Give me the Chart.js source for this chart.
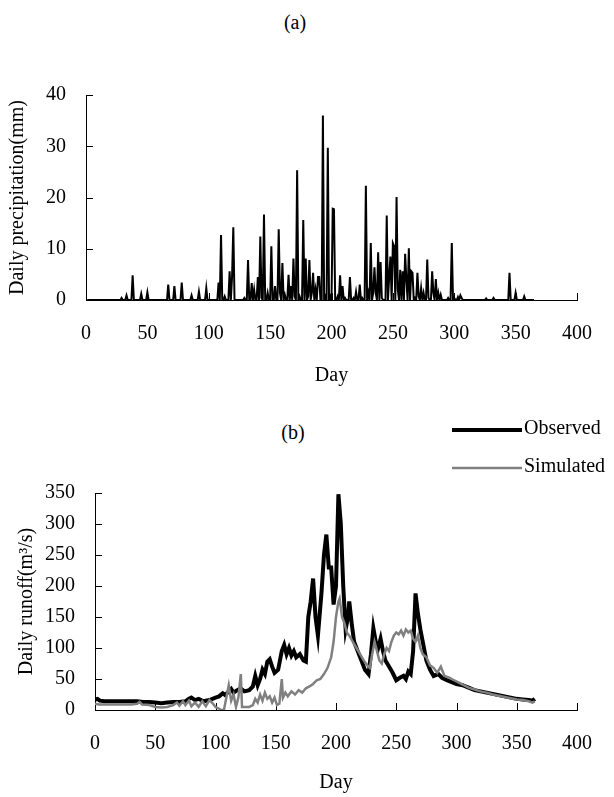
<!DOCTYPE html>
<html>
<head>
<meta charset="utf-8">
<script src="https://cdn.jsdelivr.net/npm/chart.js@4.4.0/dist/chart.umd.min.js"></script>
<style>
  body { margin: 0; background: #fff; }
  #wrap { position: relative; width: 614px; height: 797px; font-family: "Liberation Serif", serif; color: #000; }
  canvas { position: absolute; left: 0; }
  .lab { position: absolute; font-size: 20px; transform: translate(-50%, -50%); }
</style>
</head>
<body>
<div id="wrap">
  <div class="lab" style="left:295px;top:22px">(a)</div>
  <div class="lab" style="left:293px;top:432px">(b)</div>
  <canvas id="rain" width="614" height="400" style="top:0"></canvas>
  <canvas id="flow" width="614" height="397" style="top:400px"></canvas>
</div>
<script>
// (a) daily precipitation, only the wet days (all other days are 0)
const rainDays = [29, 33, 38, 45, 50, 67, 72, 78, 86, 92, 98, 108, 110, 113, 117, 119, 120, 129, 132, 135,
  137, 140, 142, 143, 145, 148, 151, 154, 157, 158, 160, 162, 165, 167, 169, 170, 172, 174, 177, 179,
  181, 182, 184, 185, 187, 189, 190, 193, 195, 197, 199, 201, 202, 205, 207, 209, 211, 215, 218, 220,
  223, 225, 228, 230, 232, 234, 235, 236, 238, 240, 241, 245, 247, 248, 250, 251, 253, 254, 256, 258,
  260, 261, 263, 265, 266, 268, 270, 271, 273, 275, 278, 279, 282, 283, 285, 287, 289, 295, 298, 300,
  303, 305, 306, 326, 332, 345, 350, 357];
const rainMm = [0.4, 0.9, 4.8, 1.2, 1.5, 3.0, 2.7, 3.4, 0.9, 1.6, 2.3, 3.4, 12.7, 0.7, 5.6, 4.6, 14.2, 0.4, 7.8, 3.3,
  2.0, 4.5, 12.4, 0.4, 16.7, 1.4, 10.5, 2.7, 13.8, 1.4, 7.2, 1.0, 4.9, 2.7, 8.1, 0.7, 25.3, 0.7, 15.6, 8.1,
  0.7, 7.8, 1.4, 5.3, 2.0, 4.5, 4.5, 36.0, 0.7, 29.7, 0.7, 17.8, 17.7, 0.7, 4.8, 2.7, 0.4, 4.5, 0.4, 1.6,
  3.0, 0.4, 22.3, 1.4, 11.1, 1.4, 6.4, 1.4, 9.3, 7.4, 0.4, 16.5, 4.6, 8.5, 11.1, 10.5, 20.1, 2.0, 5.9, 5.6,
  9.0, 4.0, 10.1, 5.6, 5.3, 0.4, 5.3, 0.7, 2.3, 1.4, 7.9, 0.4, 5.6, 1.4, 4.1, 1.4, 1.0, 0.4, 11.1, 0.4,
  0.6, 0.9, 0.4, 0.3, 0.4, 5.3, 1.4, 0.7];

// (b) daily runoff, m3/s
const obsDays = [0, 2, 4, 8, 15, 25, 35, 40, 45, 50, 55, 60, 65, 70, 75, 78, 80, 83, 86, 90,
  95, 100, 103, 106, 108, 111, 113, 115, 118, 121, 124, 128, 131, 133, 135, 137, 139, 141, 143, 145,
  147, 149, 152, 155, 157, 159, 161, 163, 165, 167, 170, 173, 175, 177, 179, 181, 183, 185, 188, 190,
  192, 194, 196, 198, 200, 202, 204, 206, 208, 210, 211, 213, 215, 218, 221, 224, 227, 229, 231, 233,
  235, 237, 239, 241, 244, 247, 250, 253, 256, 258, 260, 262, 264, 266, 268, 270, 272, 275, 278, 281,
  285, 288, 292, 296, 300, 305, 310, 315, 320, 325, 330, 335, 340, 345, 350, 355, 360, 363, 365];
const obsFlow = [17, 18, 15, 14, 14, 14, 14, 13, 13, 12, 11, 12, 13, 13, 14, 18, 20, 16, 18, 14,
  16, 20, 22, 27, 24, 30, 34, 28, 32, 35, 30, 32, 38, 55, 40, 50, 65, 58, 78, 82,
  70, 60, 65, 95, 105, 90, 100, 88, 95, 85, 90, 80, 78, 150, 175, 212, 150, 120, 190, 250,
  283, 230, 230, 170, 200, 348, 300, 200, 130, 150, 175, 140, 110, 95, 80, 65, 58, 90, 132, 110,
  100, 115, 95, 80, 70, 60, 48, 52, 55, 50, 62, 58, 95, 188, 155, 130, 110, 80, 65, 55,
  58, 52, 48, 45, 42, 40, 36, 32, 30, 28, 26, 24, 22, 20, 18, 17, 16, 15, 18];
const simDays = [0, 3, 10, 20, 30, 35, 37, 39, 45, 50, 55, 60, 65, 68, 70, 73, 75, 78, 80, 83,
  86, 89, 92, 95, 98, 100, 103, 105, 107, 109, 111, 113, 115, 117, 119, 121, 122, 125, 128, 131,
  133, 135, 137, 139, 141, 143, 145, 147, 149, 151, 153, 155, 156, 158, 160, 163, 166, 169, 172, 175,
  178, 181, 184, 187, 190, 193, 196, 198, 200, 202, 203, 205, 207, 209, 211, 214, 217, 220, 223, 226,
  228, 230, 232, 234, 236, 238, 240, 242, 244, 246, 248, 250, 252, 254, 256, 258, 260, 262, 264, 266,
  268, 270, 272, 275, 278, 281, 284, 287, 290, 294, 298, 302, 306, 310, 315, 320, 325, 330, 335, 340,
  345, 350, 355, 360, 363, 365];
const simFlow = [10, 9, 9, 9, 9, 10, 13, 9, 8, 5, 4, 5, 8, 12, 7, 14, 8, 15, 6, 12,
  5, 14, 6, 16, 10, 5, 2, 0, 0, 20, 40, 15, 25, 5, 20, 58, 5, 5, 5, 8,
  18, 12, 25, 15, 28, 18, 22, 12, 20, 8, 10, 50, 20, 28, 22, 30, 25, 32, 28, 35,
  38, 42, 48, 50, 58, 68, 85, 110, 150, 175, 180, 150, 140, 125, 120, 110, 100, 90, 80, 72,
  68, 90, 110, 95, 80, 75, 90, 100, 95, 110, 120, 125, 122, 128, 120, 130, 125, 128, 115, 110,
  120, 100, 90, 85, 72, 68, 60, 70, 55, 52, 48, 44, 40, 36, 33, 30, 28, 25, 23, 21,
  19, 17, 16, 14, 12, 14];

const dayTicks = [0, 50, 100, 150, 200, 250, 300, 350, 400];

const rainSeries = [];
for (let d = 1; d <= 365; d++) {
  const k = rainDays.indexOf(d);
  rainSeries.push({ x: d, y: k < 0 ? 0 : rainMm[k] });
}
const pairs = (xs, ys) => xs.map((v, i) => ({ x: v, y: ys[i] }));

const FONT = { family: 'Liberation Serif', size: 20 };
Chart.defaults.color = '#000';
Chart.defaults.font.family = 'Liberation Serif';

// tick marks point into the plot, like the original
const innerTicks = {
  id: 'innerTicks',
  beforeDatasetsDraw(chart) {
    const { ctx, chartArea: a, scales: { x, y } } = chart;
    ctx.save();
    ctx.strokeStyle = '#000';
    ctx.lineWidth = 1;
    ctx.beginPath();
    x.ticks.forEach(t => {
      const px = Math.round(x.getPixelForValue(t.value)) + 0.5;
      ctx.moveTo(px, a.bottom);
      ctx.lineTo(px, a.bottom - 7);
    });
    y.ticks.forEach(t => {
      const py = Math.round(y.getPixelForValue(t.value)) + 0.5;
      ctx.moveTo(a.left, py);
      ctx.lineTo(a.left + 7, py);
    });
    ctx.stroke();
    ctx.restore();
  }
};

// legend in the upper right corner of (b)
const cornerLegend = {
  id: 'cornerLegend',
  afterDraw(chart) {
    const ctx = chart.ctx;
    const rows = [30, 68];
    ctx.save();
    chart.data.datasets.forEach((ds, i) => {
      const y = rows[i];
      ctx.strokeStyle = ds.borderColor;
      ctx.lineWidth = ds.borderWidth;
      ctx.beginPath();
      ctx.moveTo(452, y);
      ctx.lineTo(522, y);
      ctx.stroke();
      ctx.fillStyle = '#000';
      ctx.font = '20px "Liberation Serif"';
      ctx.textBaseline = 'middle';
      ctx.fillText(ds.label, 524, y - 1);
    });
    ctx.restore();
  }
};

function axes(yMax, yStep, yTitle, xH) {
  return {
    x: {
      type: 'linear', min: 0, max: 400,
      afterBuildTicks: s => { s.ticks = dayTicks.map(v => ({ value: v })); },
      grid: { drawOnChartArea: false, drawTicks: false },
      border: { color: '#000', width: 1 },
      ticks: { font: FONT, padding: 22, maxRotation: 0 },
      title: { display: true, text: 'Day', font: FONT, padding: { top: 0, bottom: 0 } },
      afterFit: s => { s.height = xH; }
    },
    y: {
      min: 0, max: yMax,
      grid: { drawOnChartArea: false, drawTicks: false },
      border: { color: '#000', width: 1 },
      ticks: { font: FONT, stepSize: yStep, padding: 20 },
      title: { display: true, text: yTitle, font: FONT, padding: { top: 0, bottom: 0 } },
      afterFit: s => { s.width = 80; }
    }
  };
}

new Chart(document.getElementById('rain'), {
  type: 'line',
  data: {
    datasets: [{
      label: 'Precipitation',
      data: rainSeries,
      borderColor: '#000',
      borderWidth: 2,
      pointRadius: 0,
      tension: 0
    }]
  },
  options: {
    responsive: false,
    animation: false,
    layout: { padding: { top: 95, right: 21, bottom: 12, left: 6 } },
    plugins: { legend: { display: false }, tooltip: { enabled: false } },
    scales: axes(40, 10, 'Daily precipitation(mm)', 88)
  },
  plugins: [innerTicks]
});

new Chart(document.getElementById('flow'), {
  type: 'line',
  data: {
    datasets: [{
      label: 'Observed',
      data: pairs(obsDays, obsFlow),
      borderColor: '#000',
      borderWidth: 4,
      pointRadius: 0,
      tension: 0,
      order: 1
    }, {
      label: 'Simulated',
      data: pairs(simDays, simFlow),
      borderColor: '#808080',
      borderWidth: 2.5,
      pointRadius: 0,
      tension: 0,
      order: 0
    }]
  },
  options: {
    responsive: false,
    animation: false,
    layout: { padding: { top: 93, right: 26, bottom: 2, left: 15 } },
    plugins: { legend: { display: false }, tooltip: { enabled: false } },
    scales: axes(350, 50, 'Daily runoff(m³/s)', 85)
  },
  plugins: [innerTicks, cornerLegend]
});
</script>
</body>
</html>
